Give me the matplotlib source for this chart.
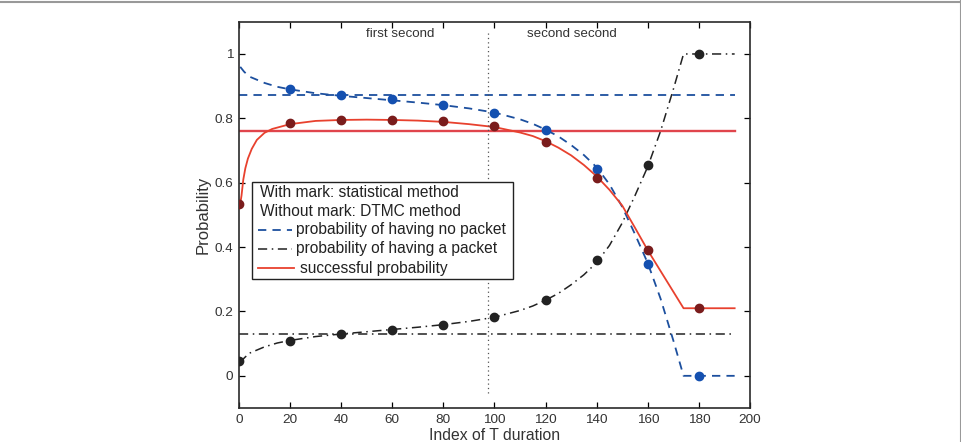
import matplotlib
matplotlib.use("Agg")
import matplotlib.pyplot as plt
from matplotlib.lines import Line2D
from matplotlib.patches import Rectangle

plt.rcParams["font.family"] = ["Liberation Sans", "DejaVu Sans"]

# DTMC curves
t_dtmc = [0.5, 2, 4, 7, 10, 15, 20, 30, 40, 50, 60, 70, 80, 90, 100, 110, 115,
          120, 125, 130, 135, 140, 145, 150, 155, 160, 165, 170, 174, 194]
no_pkt = [0.96, 0.945, 0.93, 0.92, 0.91, 0.898, 0.89, 0.878, 0.87, 0.863,
          0.856, 0.849, 0.841, 0.831, 0.818, 0.797, 0.783, 0.765, 0.744, 0.717,
          0.686, 0.648, 0.595, 0.525, 0.44, 0.35, 0.24, 0.11, 0.0, 0.0]
has_pkt = [0.04, 0.055, 0.07, 0.08, 0.09, 0.102, 0.11, 0.122, 0.13, 0.137,
           0.144, 0.151, 0.159, 0.169, 0.182, 0.203, 0.217, 0.235, 0.256, 0.283,
           0.314, 0.352, 0.405, 0.475, 0.56, 0.65, 0.76, 0.89, 1.0, 1.0]

t_succ = [0.5, 1, 1.7, 2.5, 3.5, 5, 7, 10, 13, 20, 30, 40, 50, 60, 70, 80,
          90, 100, 110, 115, 120, 125, 130, 135, 140, 145, 150, 155, 160, 174, 194]
succ = [0.535, 0.56, 0.61, 0.645, 0.675, 0.705, 0.733, 0.755, 0.767, 0.782,
        0.792, 0.795, 0.796, 0.795, 0.793, 0.789, 0.782, 0.773, 0.756, 0.745,
        0.729, 0.709, 0.685, 0.655, 0.62, 0.578, 0.529, 0.46, 0.39, 0.21, 0.21]

# statistical method (markers)
t_mark = [0, 20, 40, 60, 80, 100, 120, 140, 160, 180]
no_pkt_mark = [None, 0.89, 0.873, 0.86, 0.843, 0.818, 0.765, 0.643, 0.347, 0.0]
has_pkt_mark = [0.045, 0.108, 0.13, 0.143, 0.157, 0.182, 0.235, 0.36, 0.655, 1.0]
succ_mark = [0.535, 0.785, 0.795, 0.795, 0.792, 0.775, 0.728, 0.615, 0.391, 0.21]

# steady-state levels
t_ref = [0, 194]
ref_no_pkt = 0.873
ref_has_pkt = 0.13
ref_succ = 0.762

BLUE = "#1c4f9e"
BLUE_M = "#1450b0"
RED = "#e8412e"
RED_H = "#e0454c"
RED_M = "#7a1c1c"
BLACK = "#222222"

fig = plt.figure(figsize=(9.62, 4.42), dpi=100)
ax = fig.add_axes([0.2484, 0.0769, 0.5312, 0.8738])

# horizontal steady-state lines
ax.plot(t_ref, [ref_no_pkt] * 2, color=BLUE, lw=1.3, ls=(0, (4.6, 3.4)))
ax.plot(t_ref, [ref_succ] * 2, color=RED_H, lw=1.7)
ax.plot(t_ref, [ref_has_pkt] * 2, color=BLACK, lw=1.1, ls=(0, (6, 3, 1, 3)))

# DTMC curves
ax.plot(t_dtmc, no_pkt, color=BLUE, lw=1.3, ls=(0, (4.6, 3.4)))
ax.plot(t_dtmc, has_pkt, color=BLACK, lw=1.1, ls=(0, (6, 3, 1, 3)))
ax.plot(t_succ, succ, color=RED, lw=1.3)

# statistical markers
bx = [t for t, v in zip(t_mark, no_pkt_mark) if v is not None]
by = [v for v in no_pkt_mark if v is not None]
ax.plot(bx, by, "o", color=BLUE_M, ms=6, zorder=5)
ax.plot(t_mark, has_pkt_mark, "o", color=BLACK, ms=6, zorder=5)
ax.plot(t_mark, succ_mark, "o", color=RED_M, ms=6, zorder=5)

# divider between the two seconds
ax.plot([97.3, 97.3], [-0.053, 1.065], color="#555555", lw=0.9, ls=(0, (1, 2.5)))
ax.text(63, 1.062, "first second", ha="center", va="center", fontsize=9.6, color="#333333")
ax.text(130.3, 1.062, "second second", ha="center", va="center", fontsize=9.6, color="#333333")

ax.set_xlim(0, 200)
ax.set_ylim(-0.1, 1.1)
ax.set_xticks(range(0, 201, 20))
ax.set_yticks([0, 0.2, 0.4, 0.6, 0.8, 1])
ax.set_yticklabels(["0", "0.2", "0.4", "0.6", "0.8", "1"])
ax.tick_params(direction="in", top=True, right=True, length=4, width=0.9,
               labelsize=9.7, labelcolor="#333333", pad=4)
for s in ax.spines.values():
    s.set_linewidth(1.2)
    s.set_color("#2a2a2a")
ax.set_xlabel("Index of T duration", fontsize=11.3, color="#333333", labelpad=2)
ax.set_ylabel("Probability", fontsize=12, color="#333333", labelpad=3)

# hand-built legend box
ax.add_patch(Rectangle((0.0249, 0.333), 0.5107, 0.253, transform=ax.transAxes,
                       facecolor="white", edgecolor="#222222", lw=1.0, zorder=6))
fs = 11.2
ax.text(0.0415, 0.557, "With mark: statistical method", transform=ax.transAxes,
        fontsize=fs, va="center", color="#222222", zorder=7)
ax.text(0.0415, 0.508, "Without mark: DTMC method", transform=ax.transAxes,
        fontsize=fs, va="center", color="#222222", zorder=7)
ax.add_line(Line2D([0.0378, 0.1031], [0.461, 0.461], transform=ax.transAxes,
                   color=BLUE, lw=1.3, ls=(0, (4.6, 3.4)), zorder=7))
ax.text(0.1115, 0.461, "probability of having no packet", transform=ax.transAxes,
        fontsize=fs, va="center", color="#222222", zorder=7)
ax.add_line(Line2D([0.0378, 0.1031], [0.412, 0.412], transform=ax.transAxes,
                   color=BLACK, lw=1.1, ls=(0, (6, 3, 1, 3)), zorder=7))
ax.text(0.1115, 0.412, "probability of having a packet", transform=ax.transAxes,
        fontsize=fs, va="center", color="#222222", zorder=7)
ax.add_line(Line2D([0.0378, 0.1075], [0.362, 0.362], transform=ax.transAxes,
                   color=RED, lw=1.3, zorder=7))
ax.text(0.1194, 0.362, "successful probability", transform=ax.transAxes,
        fontsize=fs, va="center", color="#222222", zorder=7)

# thin grey page frame (top and right)
fig.add_artist(Line2D([0, 1], [0.9945, 0.9945], transform=fig.transFigure, color="#999999", lw=1.5))
fig.add_artist(Line2D([0.9985, 0.9985], [0, 1], transform=fig.transFigure, color="#999999", lw=1.5))

fig.savefig("out.png", dpi=100)
